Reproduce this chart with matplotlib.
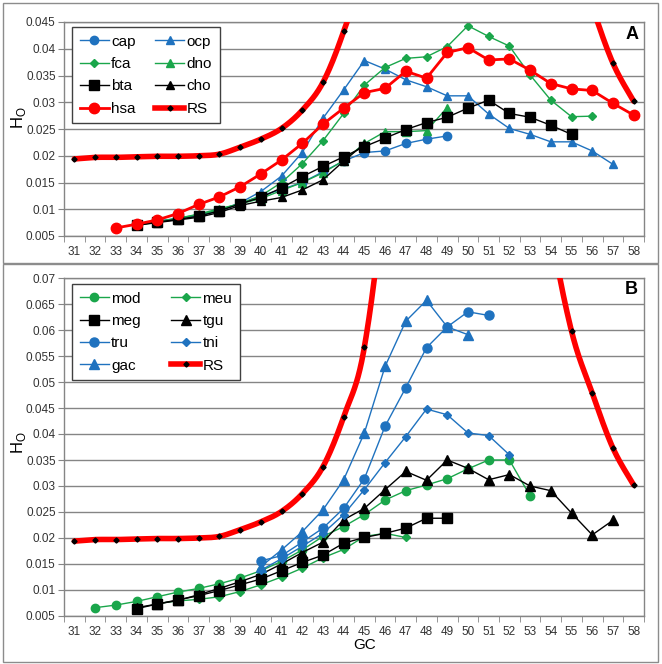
import numpy as np
import matplotlib
matplotlib.use('Agg')
import matplotlib.pyplot as plt
from matplotlib.lines import Line2D
from matplotlib.patches import Rectangle

plt.rcParams['font.family'] = ['Liberation Sans', 'DejaVu Sans']

# GC categories on the x axis
gc = np.arange(31, 59)

# random-sequence expectation (same curve in both panels)
rs = [0.0194, 0.0197, 0.0197, 0.0198, 0.0199, 0.0199, 0.0200, 0.0203, 0.0216, 0.0231,
      0.0251, 0.0285, 0.0337, 0.0433, 0.0567, 0.090, 0.15, 0.20, 0.22, 0.22,
      0.20, 0.15, 0.11, 0.080, 0.0598, 0.0479, 0.0373, 0.0302]

# panel A (mammals)
cap_gc = np.arange(34, 50)
cap = [0.0072, 0.0078, 0.0083, 0.0088, 0.0097, 0.0110, 0.0125, 0.0137, 0.0150, 0.0170,
       0.0190, 0.0206, 0.0209, 0.0223, 0.0231, 0.0237]
ocp_gc = np.arange(34, 58)
ocp = [0.0071, 0.0077, 0.0082, 0.0088, 0.0098, 0.0112, 0.0133, 0.0162, 0.0206, 0.0270,
       0.0323, 0.0378, 0.0362, 0.0342, 0.0329, 0.0312, 0.0312, 0.0278, 0.0251, 0.0240,
       0.0226, 0.0226, 0.0209, 0.0184]
fca_gc = np.arange(34, 57)
fca = [0.0070, 0.0076, 0.0083, 0.0090, 0.0099, 0.0111, 0.0125, 0.0150, 0.0185, 0.0228,
       0.0279, 0.0332, 0.0365, 0.0382, 0.0385, 0.0404, 0.0443, 0.0423, 0.0405, 0.0351,
       0.0304, 0.0273, 0.0274]
dno_gc = np.arange(34, 50)
dno = [0.0071, 0.0077, 0.0083, 0.0091, 0.0101, 0.0110, 0.0120, 0.0135, 0.0150, 0.0168,
       0.0191, 0.0223, 0.0245, 0.0245, 0.0247, 0.0290]
bta_gc = np.arange(34, 56)
bta = [0.0071, 0.0076, 0.0081, 0.0087, 0.0097, 0.0110, 0.0122, 0.0140, 0.0161, 0.0180,
       0.0198, 0.0217, 0.0233, 0.0249, 0.0262, 0.0272, 0.0289, 0.0304, 0.0279, 0.0272,
       0.0257, 0.0240]
cho_gc = np.arange(34, 46)
cho = [0.0070, 0.0075, 0.0080, 0.0085, 0.0094, 0.0107, 0.0115, 0.0122, 0.0136, 0.0155,
       0.0190, 0.0222]
hsa_gc = np.arange(33, 59)
hsa = [0.0065, 0.0072, 0.0080, 0.0092, 0.0109, 0.0123, 0.0142, 0.0166, 0.0192, 0.0223,
       0.0259, 0.0289, 0.0318, 0.0326, 0.0358, 0.0345, 0.0393, 0.0402, 0.0379, 0.0381,
       0.0360, 0.0335, 0.0325, 0.0322, 0.0298, 0.0276]

# panel B (other vertebrates)
mod_gc = np.arange(32, 54)
mod = [0.0066, 0.0071, 0.0078, 0.0087, 0.0096, 0.0103, 0.0112, 0.0123, 0.0137, 0.0155,
       0.0177, 0.0203, 0.0222, 0.0245, 0.0273, 0.0291, 0.0302, 0.0314, 0.0333, 0.0350,
       0.0350, 0.0281]
meu_gc = np.arange(35, 48)
meu = [0.0074, 0.0079, 0.0082, 0.0087, 0.0097, 0.0110, 0.0125, 0.0142, 0.0162, 0.0178,
       0.0203, 0.0209, 0.0201]
meg_gc = np.arange(34, 50)
meg = [0.0064, 0.0073, 0.0081, 0.0089, 0.0099, 0.0110, 0.0121, 0.0137, 0.0153, 0.0167,
       0.0190, 0.0201, 0.0209, 0.0219, 0.0238, 0.0238]
tgu_gc = np.arange(34, 58)
tgu = [0.0066, 0.0073, 0.0080, 0.0091, 0.0103, 0.0116, 0.0130, 0.0150, 0.0172, 0.0192,
       0.0235, 0.0257, 0.0293, 0.0328, 0.0311, 0.0350, 0.0334, 0.0312, 0.0322, 0.0300,
       0.0291, 0.0248, 0.0206, 0.0234]
tru_gc = np.arange(40, 52)
tru = [0.0156, 0.0166, 0.0192, 0.0219, 0.0257, 0.0314, 0.0415, 0.0489, 0.0566, 0.0606,
       0.0635, 0.0628]
tni_gc = np.arange(40, 53)
tni = [0.0138, 0.0160, 0.0184, 0.0209, 0.0245, 0.0293, 0.0345, 0.0395, 0.0448, 0.0437,
       0.0402, 0.0397, 0.0360]
gac_gc = np.arange(40, 51)
gac = [0.0145, 0.0177, 0.0212, 0.0254, 0.0312, 0.0402, 0.0530, 0.0617, 0.0657, 0.0606,
       0.0591]

BLUE = '#1f72bf'
GREEN = '#1aa64b'
RED = '#ff0000'
GRID = '#858585'
TXT = '#333333'


def smooth(x, y, n=24):
    # Excel-like smoothed line (Catmull-Rom through the points)
    x = np.asarray(x, float)
    y = np.asarray(y, float)
    xs, ys = [], []
    m = len(x)
    for i in range(m - 1):
        i0, i3 = max(i - 1, 0), min(i + 2, m - 1)
        t = np.linspace(0, 1, n)
        for arr, out in ((x, xs), (y, ys)):
            p0, p1, p2, p3 = arr[i0], arr[i], arr[i + 1], arr[i3]
            out.extend(0.5 * (2 * p1 + (-p0 + p2) * t + (2 * p0 - 5 * p1 + 4 * p2 - p3) * t ** 2
                              + (-p0 + 3 * p1 - 3 * p2 + p3) * t ** 3))
    return xs, ys


def idx(g):
    return np.asarray(g) - gc[0]


def series(ax, g, v, color, marker, ms, lw=1.0):
    ax.plot(idx(g), v, color=color, lw=lw, marker=marker, ms=ms,
            markerfacecolor=color, markeredgecolor=color, clip_on=True)
    return Line2D([], [], color=color, lw=lw, marker=marker, ms=ms)


def rs_line(ax):
    sx, sy = smooth(idx(gc), rs)
    ax.plot(sx, sy, color=RED, lw=4, solid_capstyle='round', zorder=5)
    ax.plot(idx(gc), rs, ls='none', marker='D', ms=2.6, color='black', zorder=6)
    return Line2D([], [], color=RED, lw=4, marker='D', ms=2.6,
                  markerfacecolor='black', markeredgecolor='black')


def style(ax, ymin, ymax):
    ax.set_xlim(-0.5, len(gc) - 0.5)
    ax.set_ylim(ymin, ymax)
    yt = np.arange(ymin, ymax + 1e-9, 0.005)
    ax.set_yticks(yt)
    ax.set_yticklabels(['%g' % round(v, 4) for v in yt])
    ax.set_xticks(np.arange(len(gc)))
    ax.set_xticklabels([str(g) for g in gc])
    ax.set_xticks(np.arange(len(gc) + 1) - 0.5, minor=True)
    ax.tick_params(axis='x', which='major', length=0, pad=7, labelsize=8.5, labelcolor=TXT)
    ax.tick_params(axis='x', which='minor', length=4, direction='out', color=GRID)
    ax.tick_params(axis='y', length=4, direction='out', color=GRID, labelsize=8.5,
                   labelcolor=TXT, pad=2)
    ax.yaxis.grid(True, color=GRID, lw=1)
    ax.set_axisbelow(True)
    for s in ax.spines.values():
        s.set_color(GRID)
        s.set_linewidth(1)


fig = plt.figure(figsize=(6.62, 6.64), dpi=100)
W, H = 662.0, 664.0

# chart area borders
fig.add_artist(Rectangle((3 / W, 1 - 263 / H), 655 / W, 260 / H, transform=fig.transFigure,
                         fill=False, edgecolor='#8c8c8c', lw=1))
fig.add_artist(Rectangle((3 / W, 1 - 662 / H), 655 / W, 398 / H, transform=fig.transFigure,
                         fill=False, edgecolor='#8c8c8c', lw=1))

axA = fig.add_axes([64 / W, 1 - 236 / H, 580 / W, 214 / H])
style(axA, 0.005, 0.045)
hA = {}
hA['cap'] = series(axA, cap_gc, cap, BLUE, 'o', 6)
hA['ocp'] = series(axA, ocp_gc, ocp, BLUE, '^', 6)
hA['fca'] = series(axA, fca_gc, fca, GREEN, 'D', 4.5)
hA['dno'] = series(axA, dno_gc, dno, GREEN, '^', 6)
hA['bta'] = series(axA, bta_gc, bta, 'black', 's', 6.5)
hA['cho'] = series(axA, cho_gc, cho, 'black', '^', 6)
hA['hsa'] = series(axA, hsa_gc, hsa, RED, 'o', 7.5, lw=2)
hA['RS'] = rs_line(axA)
orderA = ['cap', 'fca', 'bta', 'hsa', 'ocp', 'dno', 'cho', 'RS']
legA = axA.legend([hA[k] for k in orderA], orderA, ncol=2, loc='upper left',
                  bbox_to_anchor=(8 / 580, 1 - 5 / 214), borderaxespad=0, fontsize=11,
                  frameon=True, fancybox=False, framealpha=1, edgecolor='#404040',
                  handlelength=1.9, handletextpad=0.15, labelspacing=0.55,
                  columnspacing=1.3, borderpad=0.5)
legA.get_frame().set_linewidth(1)
legA.set_zorder(10)
axA.text(0.99, 0.94, 'A', transform=axA.transAxes, ha='right', va='center',
         fontsize=13, fontweight='bold')

axB = fig.add_axes([64 / W, 1 - 616 / H, 580 / W, 338 / H])
style(axB, 0.005, 0.07)
hB = {}
hB['mod'] = series(axB, mod_gc, mod, GREEN, 'o', 6)
hB['meu'] = series(axB, meu_gc, meu, GREEN, 'D', 4.5)
hB['meg'] = series(axB, meg_gc, meg, 'black', 's', 6.5)
hB['tgu'] = series(axB, tgu_gc, tgu, 'black', '^', 6.5)
hB['tru'] = series(axB, tru_gc, tru, BLUE, 'o', 6.5)
hB['tni'] = series(axB, tni_gc, tni, BLUE, 'D', 4.5)
hB['gac'] = series(axB, gac_gc, gac, BLUE, '^', 6.5)
hB['RS'] = rs_line(axB)
orderB = ['mod', 'meg', 'tru', 'gac', 'meu', 'tgu', 'tni', 'RS']
legB = axB.legend([hB[k] for k in orderB], orderB, ncol=2, loc='upper left',
                  bbox_to_anchor=(8 / 580, 1 - 6 / 338), borderaxespad=0, fontsize=11,
                  frameon=True, fancybox=False, framealpha=1, edgecolor='#404040',
                  handlelength=1.9, handletextpad=0.15, labelspacing=0.55,
                  columnspacing=2.0, borderpad=0.5)
legB.get_frame().set_linewidth(1)
legB.set_zorder(10)
axB.text(0.99, 0.965, 'B', transform=axB.transAxes, ha='right', va='center',
         fontsize=13, fontweight='bold')

fig.text(18 / W, 1 - 118 / H, 'H$_\\mathregular{O}$', rotation=90, ha='center', va='center', fontsize=12)
fig.text(18 / W, 1 - 443 / H, 'H$_\\mathregular{O}$', rotation=90, ha='center', va='center', fontsize=12)
fig.text(365 / W, 1 - 645 / H, 'GC', ha='center', va='center', fontsize=11)

fig.savefig('out.png', dpi=100)
